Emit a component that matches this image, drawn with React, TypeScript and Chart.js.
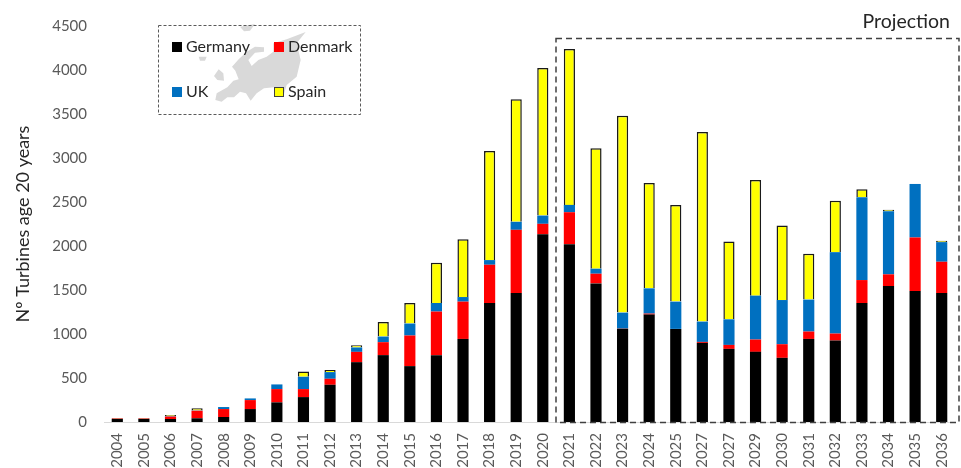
import React, { useEffect, useRef } from "react";
import { Chart, registerables } from "chart.js";

Chart.register(...registerables);

const years = ["2004","2005","2006","2007","2008","2009","2010","2011","2012","2013","2014","2015","2016","2017","2018","2019","2020","2021","2022","2023","2024","2025","2027","2027","2029","2030","2031","2032","2033","2034","2035","2036"];
const germany = [35,35,34,42,57,147,223,283,423,680,760,635,759,944,1352,1466,2134,2021,1575,1060,1221,1058,899,831,797,729,944,926,1352,1545,1488,1466];
const denmark = [5,5,28,86,90,102,151,91,68,117,147,348,496,424,435,718,118,363,110,2,11,0,11,45,140,155,84,79,261,133,609,355];
const uk = [0,0,5,3,23,19,53,140,76,50,64,136,97,52,53,91,94,83,57,181,287,310,231,291,499,502,363,925,941,717,608,223];
const spain = [5,5,12,24,0,0,0,61,23,26,166,233,458,658,1240,1394,1678,1773,1368,2237,1198,1099,2154,885,1315,847,521,583,91,16,0,16];

const legendEntries = [
  { name: "Germany", colour: "#000000" },
  { name: "Denmark", colour: "#ff0000" },
  { name: "UK", colour: "#0070c0" },
  { name: "Spain", colour: "#ffff00" },
];
const yLabel = "Nº Turbines age 20 years";
const projectionLabel = "Projection";
const FONT = "Lato, Carlito, 'Open Sans', sans-serif";

// Decorative Europe silhouette behind the legend (not data), in a 3x local space
const europeMain: [number, number][] = [
  [226,270],[230,250],[262,232],[280,212],[296,208],[286,182],[276,170],[296,148],[320,125],[345,110],[372,112],[372,125],[345,128],[325,150],[335,168],[355,150],[380,140],[400,125],[400,100],[440,88],[497,66],[470,100],[482,150],[470,200],[440,225],[432,252],[402,232],[372,235],[350,250],[332,272],[318,250],[300,245],[282,262],[262,262],[245,275]
];
const europeIslands: [number, number][][] = [
  [[236,178],[250,190],[252,212],[232,210],[222,198]],
  [[176,140],[200,140],[195,152],[180,152]],
  [[300,50],[345,42],[330,62],[312,64]],
];

const overlay = {
  id: "overlay",
  beforeDatasetsDraw(chart: any) {
    const ctx = chart.ctx;
    ctx.save();
    ctx.translate(140, 10);
    ctx.scale(1 / 3, 1 / 3);
    ctx.fillStyle = "#d9d9d9";
    [europeMain, ...europeIslands].forEach((shape) => {
      ctx.beginPath();
      shape.forEach(([x, y], i) => (i ? ctx.lineTo(x, y) : ctx.moveTo(x, y)));
      ctx.closePath();
      ctx.fill();
    });
    ctx.restore();
  },
  afterDraw(chart: any) {
    const ctx = chart.ctx;
    ctx.save();
    ctx.setLineDash([6, 4]);
    ctx.lineWidth = 1.5;
    ctx.strokeStyle = "#404040";
    ctx.strokeRect(556, 38.5, 403, 384);
    ctx.lineWidth = 1;
    ctx.strokeStyle = "#595959";
    ctx.setLineDash([3, 2]);
    ctx.strokeRect(158.5, 25.5, 202, 89);
    ctx.setLineDash([]);
    ctx.font = `16px ${FONT}`;
    ctx.textBaseline = "middle";
    const spots = [[172, 47], [274, 47], [172, 92], [274, 92]];
    legendEntries.forEach((e, i) => {
      const [x, y] = spots[i];
      ctx.fillStyle = e.colour;
      ctx.fillRect(x, y - 5, 10, 10);
      if (e.name === "Spain") {
        ctx.strokeStyle = "#404040";
        ctx.strokeRect(x + 0.5, y - 4.5, 9, 9);
      }
      ctx.fillStyle = "#262626";
      ctx.fillText(e.name, x + 14, y);
    });
    ctx.font = `19.5px ${FONT}`;
    ctx.fillStyle = "#262626";
    ctx.textAlign = "right";
    ctx.fillText(projectionLabel, 950, 22);
    ctx.restore();
  },
};

export default function App() {
  const ref = useRef<HTMLCanvasElement>(null);
  useEffect(() => {
    const bar = { stack: "a", barPercentage: 0.42, categoryPercentage: 1 };
    const chart = new Chart(ref.current!, {
      type: "bar",
      data: {
        labels: years,
        datasets: [
          { label: "Germany", data: germany, backgroundColor: "#000000", ...bar },
          { label: "Denmark", data: denmark, backgroundColor: "#ff0000", ...bar },
          { label: "UK", data: uk, backgroundColor: "#0070c0", ...bar },
          { label: "Spain", data: spain, backgroundColor: "#ffff00", borderColor: "#1a1a1a", borderWidth: 1.5, ...bar },
        ],
      },
      options: {
        animation: false,
        responsive: false,
        maintainAspectRatio: false,
        layout: { autoPadding: false, padding: { left: 10, right: 6, top: 25, bottom: 0 } },
        plugins: { legend: { display: false }, tooltip: { enabled: false } },
        scales: {
          x: {
            stacked: true,
            grid: { display: false, drawTicks: false },
            border: { color: "#d9d9d9" },
            afterFit: (s: any) => { s.height = 46; s.paddingRight = 0; s.paddingLeft = 0; },
            ticks: { color: "#595959", font: { size: 15, family: FONT }, maxRotation: 90, minRotation: 90, autoSkip: false, padding: 11 },
          },
          y: {
            stacked: true,
            min: 0,
            max: 4500,
            grid: { display: false, drawTicks: false },
            border: { display: false },
            afterFit: (s: any) => { s.width = 94; },
            ticks: { stepSize: 500, color: "#595959", font: { size: 15, family: FONT }, padding: 17, callback: (v: any) => String(v) },
            title: { display: true, text: yLabel, color: "#262626", font: { size: 18, family: FONT }, padding: { top: 2, bottom: 6 } },
          },
        },
      },
      plugins: [overlay],
    });
    return () => chart.destroy();
  }, []);
  return (
    <div style={{ position: "fixed", left: 0, top: 0 }}>
      <canvas ref={ref} width={961} height={468} style={{ display: "block" }} />
    </div>
  );
}
